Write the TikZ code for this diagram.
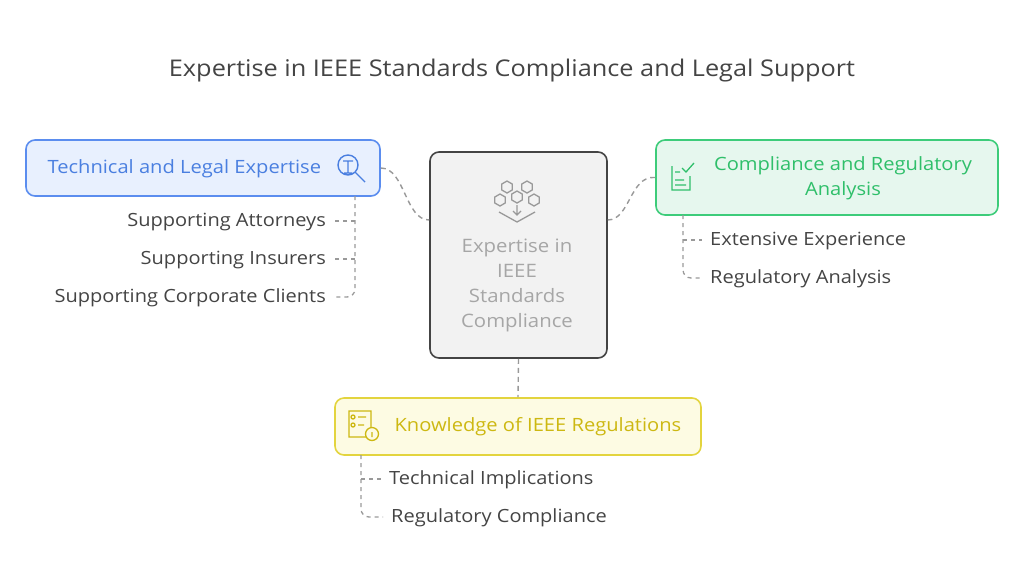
\documentclass[tikz,border=0pt]{standalone}
\usepackage{fontspec}
\setmainfont{Open Sans}[FakeStretch=1.1]
\usetikzlibrary{shapes.geometric}
\definecolor{tgray}{HTML}{444444}
\definecolor{bluel}{HTML}{5B8DEF}\definecolor{bluef}{HTML}{E8F0FE}\definecolor{bluet}{HTML}{4A7FE0}
\definecolor{greenl}{HTML}{3DCC7A}\definecolor{greenf}{HTML}{E6F7EE}\definecolor{greent}{HTML}{2FBF6A}
\definecolor{yell}{HTML}{E3D43E}\definecolor{yelf}{HTML}{FDFBE3}\definecolor{yelt}{HTML}{CDB812}
\definecolor{dash}{HTML}{999999}
\begin{document}
\begin{tikzpicture}[x=1pt,y=-1pt,
 box/.style={draw,line width=1.6pt,rounded corners=9pt},
 item/.style={text=tgray,font=\fontsize{18.2}{20}\selectfont,inner sep=0pt},
 con/.style={draw=dash,line width=1.4pt,dash pattern=on 5pt off 4pt},
 lst/.style={draw=dash,line width=1.3pt,dash pattern=on 4pt off 4pt}]
\useasboundingbox (0,0) rectangle (1024,582);
\node[text=tgray,font=\fontsize{23}{24}\selectfont] (title) at (512,71) {Expertise in IEEE Standards Compliance and Legal Support};
% center
\node[box,draw=tgray,fill=black!5,minimum width=177pt,minimum height=206pt] (c) at (518.5,255) {};
\node[text=black!35,font=\fontsize{18.5}{25}\selectfont,align=center] (ct) at (517,285) {Expertise in\\IEEE\\Standards\\Compliance};
\begin{scope}[draw=black!40,line width=1.3pt]
\foreach \p in {(507,187),(527,187),(500,200),(534,200),(517,197)}
 \draw \p ++(0,-6) -- ++(5.2,3) -- ++(0,6) -- ++(-5.2,3) -- ++(-5.2,-3) -- ++(0,-6) -- cycle;
\draw (517,205) -- (517,214) (513,211) -- (517,215) -- (521,211);
\draw (499,212) -- (517,222) -- (535,212);
\end{scope}
% blue
\node[box,draw=bluel,fill=bluef,minimum width=354pt,minimum height=56pt] (b) at (203,168) {};
\node[text=bluet,font=\fontsize{18.3}{22}\selectfont,anchor=west] (bt) at (44,169) {Technical and Legal Expertise};
\draw[bluet,line width=1.4pt] (348,165) circle (10) (343,161)--(353,161) (348,161)--(348,173) (344,173)--(352,173) (355,172)--(365,182);
% green
\node[box,draw=greenl,fill=greenf,minimum width=342pt,minimum height=75pt] (g) at (827,177.5) {};
\node[text=greent,font=\fontsize{18.3}{25}\selectfont,align=center] (gt) at (843,178) {Compliance and Regulatory\\Analysis};
\draw[greent,line width=1.3pt] (672,166)--(672,190)--(690,190)--(690,176) (675,172)--(680,172) (675,180)--(684,180) (675,185)--(686,185) (682,168)--(686,172)--(694,163);
% yellow
\node[box,draw=yell,fill=yelf,minimum width=366pt,minimum height=57pt] (y) at (518,426.5) {};
\node[text=yelt,font=\fontsize{18.3}{22}\selectfont,anchor=west] (yt) at (391,427) {Knowledge of IEEE Regulations};
\draw[yelt,line width=1.3pt] (349,411) rectangle (371,437) (353,417) circle (2) (358,417)--(366,417) (353,425) circle (2) (358,425)--(364,425);
\draw[yelt,line width=1.3pt,fill=yelf] (372,434) circle (6.5) (372,432)--(372,437);
% connectors
\draw[con] (b.east) .. controls (405,168) and (405,220) .. (c.west|-0,220);
\draw[con] (g.west) .. controls (630,175) and (630,220) .. (c.east|-0,220);
\draw[con] (c.south) -- (y.north);
% left list
\node[item,anchor=east] (l1) at (326,222) {Supporting Attorneys};
\node[item,anchor=east] (l2) at (326,260) {Supporting Insurers};
\node[item,anchor=east] (l3) at (326,298) {Supporting Corporate Clients};
\coordinate (lb) at (355,196);
\draw[lst] (lb) -- (355,289) arc (0:90:8) -- ([xshift=8pt]l3.east|-0,297);
\draw[lst] (355,221) -- ([xshift=8pt]l1.east|-0,221) (355,259) -- ([xshift=8pt]l2.east|-0,259);
% right list
\node[item,anchor=west] (r1) at (710,241) {Extensive Experience};
\node[item,anchor=west] (r2) at (710,279) {Regulatory Analysis};
\draw[lst] (683,215) -- (683,270) arc (180:90:8) -- ([xshift=-8pt]r2.west|-0,278);
\draw[lst] (683,240) -- ([xshift=-8pt]r1.west|-0,240);
% bottom list
\node[item,anchor=west] (d1) at (389,480) {Technical Implications};
\node[item,anchor=west] (d2) at (391,518) {Regulatory Compliance};
\draw[lst] (361,455) -- (361,509) arc (180:90:8) -- ([xshift=-8pt]d2.west|-0,517);
\draw[lst] (361,479) -- ([xshift=-8pt]d1.west|-0,479);
\end{tikzpicture}
\end{document}
